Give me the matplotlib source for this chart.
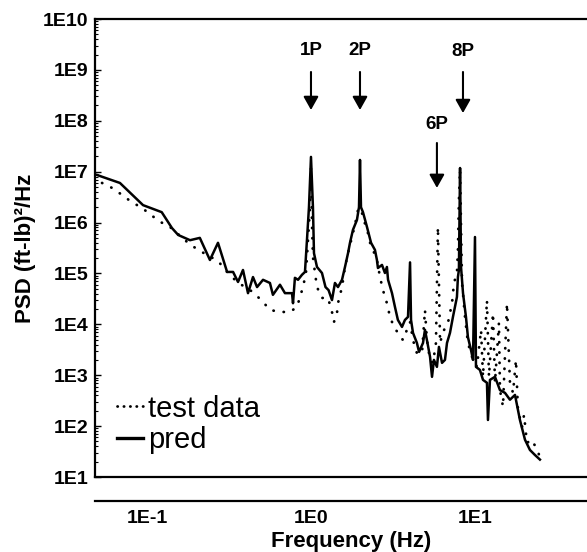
import matplotlib
matplotlib.use('Agg')
import matplotlib.pyplot as plt
from matplotlib.ticker import FixedLocator, FixedFormatter, LogLocator, NullFormatter, NullLocator
from matplotlib.lines import Line2D

plt.rcParams['font.family'] = ['Liberation Sans', 'DejaVu Sans']

# ---- data ----
pred_freq = [0.0496, 0.0684, 0.0946, 0.123, 0.142, 0.155, 0.183, 0.210, 0.242, 0.271,
             0.308, 0.335, 0.359, 0.385, 0.413, 0.443, 0.469, 0.510, 0.562, 0.586,
             0.647, 0.694, 0.766, 0.777, 0.798, 0.834, 0.881, 0.919, 0.945, 0.972,
             1.000, 1.028, 1.043, 1.088, 1.167, 1.226, 1.280, 1.343, 1.400, 1.461,
             1.546, 1.612, 1.682, 1.729, 1.803, 1.906, 1.962, 1.990, 2.018, 2.075,
             2.195, 2.324, 2.455, 2.524, 2.560, 2.710, 2.825, 2.904, 2.951, 3.119,
             3.251, 3.388, 3.589, 3.741, 3.905, 4.018, 4.074, 4.188, 4.426, 4.560,
             4.819, 4.955, 5.093, 5.321, 5.470, 5.620, 5.861, 6.030, 6.295, 6.561,
             6.750, 7.040, 7.340, 7.762, 7.870, 7.980, 8.110, 8.222, 8.453, 8.810,
             9.057, 9.462, 9.727, 10.00, 10.14, 10.72, 11.19, 11.83, 12.00, 12.34,
             13.24, 14.20, 15.24, 16.34, 17.54, 18.80, 20.18, 21.63, 23.23, 24.89]
pred_psd = [8.6e6, 6.0e6, 2.2e6, 1.6e6, 7.8e5, 5.7e5, 4.5e5, 5.0e5, 1.84e5, 4.0e5,
            1.07e5, 1.07e5, 6.8e4, 1.17e5, 4.1e4, 8.5e4, 5.4e4, 7.5e4, 6.5e4, 3.8e4,
            6.0e4, 4.1e4, 4.1e4, 2.6e4, 8.2e4, 7.5e4, 9.4e4, 1.07e5, 4.5e5, 2.0e6,
            1.95e7, 2.0e6, 2.5e5, 1.34e5, 1.02e5, 5.4e4, 4.7e4, 3.0e4, 6.5e4, 5.4e4,
            7.5e4, 1.34e5, 2.5e5, 4.0e5, 7.2e5, 1.12e6, 2.0e6, 1.7e7, 2.0e6, 1.6e6,
            8.2e5, 4.0e5, 2.9e5, 1.84e5, 1.28e5, 1.47e5, 1.02e5, 1.34e5, 7.5e4, 4.1e4,
            2.2e4, 1.22e4, 8.9e3, 1.22e4, 1.40e4, 1.65e5, 1.22e4, 6.8e3, 4.3e3, 2.87e3,
            4.3e3, 7.8e3, 4.9e3, 2.3e3, 9.3e2, 2.0e3, 1.46e3, 3.6e3, 1.75e3, 2.0e3,
            4.3e3, 6.8e3, 1.40e4, 3.45e4, 8.5e4, 1.17e5, 1.18e7, 1.34e5, 4.1e4, 1.40e4,
            5.6e3, 3.1e3, 2.0e3, 5.2e5, 1.46e3, 1.27e3, 8.1e2, 7.1e2, 1.32e2, 8.1e2,
            9.3e2, 5.1e2, 4.5e2, 3.3e2, 4.1e2, 1.32e2, 54, 34, 27, 22]

test_freq = [0.0532, 0.0612, 0.0704, 0.0810, 0.0919, 0.104, 0.118, 0.138, 0.178, 0.205,
             0.271, 0.308, 0.354, 0.443, 0.510, 0.562, 0.647, 0.745, 0.822, 0.857,
             0.894, 0.932, 0.959, 0.986, 1.000, 1.014, 1.028, 1.058, 1.088, 1.167,
             1.270, 1.343, 1.381, 1.441, 1.461, 1.546, 1.612, 1.682, 1.778, 1.854,
             1.935, 1.990, 2.046, 2.075, 2.195, 2.259, 2.388, 2.524, 2.636, 2.748,
             2.904, 3.033, 3.206, 3.388, 3.639, 3.846, 4.018, 4.188, 4.426, 4.753,
             4.955, 5.093, 5.321, 5.546, 5.781, 5.943, 6.124, 6.383, 6.843, 7.244,
             7.447, 7.762, 7.870, 7.980, 8.110, 8.337, 8.690, 9.057, 9.594, 10.28,
             10.89, 11.19, 11.83, 12.17, 12.88, 13.24, 14.00, 14.20, 14.82, 15.67,
             16.34, 17.06, 17.78, 18.28, 19.36, 19.91, 20.75, 22.28, 23.88, 24.89,
             25.63]
test_psd = [6.0e6, 4.8e6, 3.5e6, 2.5e6, 2.0e6, 1.48e6, 1.07e6, 8.2e5, 4.0e5, 2.9e5,
            1.76e5, 1.07e5, 6.8e4, 4.3e4, 2.75e4, 1.92e4, 1.75e4, 1.75e4, 2.2e4, 3.45e4,
            5.4e4, 1.02e5, 4.5e5, 2.0e6, 1.2e7, 9.8e5, 2.1e5, 1.02e5, 5.4e4, 3.3e4,
            3.3e4, 1.75e4, 1.11e4, 1.67e4, 2.6e4, 5.4e4, 1.34e5, 2.5e5, 5.2e5, 9.0e5,
            1.77e6, 2.5e6, 1.6e6, 1.12e6, 8.2e5, 4.5e5, 2.9e5, 1.84e5, 8.5e4, 4.7e4,
            2.6e4, 1.40e4, 8.9e3, 6.8e3, 4.9e3, 7.8e3, 1.11e4, 4.9e3, 2.7e3, 2.7e3,
            1.92e4, 4.9e3, 2.0e3, 1.75e3, 4.3e3, 8.2e5, 4.3e3, 7.1e3, 1.07e4, 2.6e4,
            6.5e4, 1.02e5, 2.9e5, 2.8e6, 1.08e7, 6.5e4, 1.40e4, 4.3e3, 2.3e3, 1.46e3,
            7.8e3, 9.3e2, 3.0e4, 9.3e2, 1.67e4, 7.1e2, 1.07e4, 5.1e2, 2.4e2, 2.6e4,
            7.1e2, 4.5e2, 2.0e3, 2.1e2, 96, 1.66e2, 47, 54, 34, 25,
            34]

ytick_vals = [1e1, 1e2, 1e3, 1e4, 1e5, 1e6, 1e7, 1e8, 1e9, 1e10]
ytick_labels = ['1E1', '1E2', '1E3', '1E4', '1E5', '1E6', '1E7', '1E8', '1E9', '1E10']
xtick_vals = [0.1, 1.0, 10.0]
xtick_labels = ['1E-1', '1E0', '1E1']

harmonic_labels = ['1P', '2P', '6P', '8P']
harmonic_freq = [1.0, 1.99, 5.86, 8.45]
arrow_tail = [9.1e8, 9.1e8, 3.66e7, 9.1e8]
arrow_tip = [1.63e8, 1.63e8, 4.8e6, 1.42e8]
label_psd = [2.45e9, 2.45e9, 8.3e7, 2.3e9]

legend_labels = ['test data', 'pred']

# ---- figure ----
fig = plt.figure(figsize=(5.87, 5.52), dpi=100)
ax = fig.add_axes([95 / 587, 1 - 477 / 552, 492 / 587, 458 / 552])
ax.set_xscale('log')
ax.set_yscale('log')
ax.set_xlim(0.0482, 48.2)
ax.set_ylim(10, 1e10)

ax.plot(test_freq, test_psd, color='k', lw=2.0, linestyle=(0, (0.1, 3.6)),
        dash_capstyle='round')
ax.plot(pred_freq, pred_psd, color='k', lw=1.8)

# box bottom at 1E1
ax.axhline(10, color='k', lw=1.6, clip_on=False)

for sp in ['top', 'left', 'bottom']:
    ax.spines[sp].set_linewidth(1.6)
ax.spines['right'].set_visible(False)
ax.spines['bottom'].set_position(('outward', 17))

ax.yaxis.set_major_locator(FixedLocator(ytick_vals))
ax.yaxis.set_major_formatter(FixedFormatter(ytick_labels))
ax.yaxis.set_minor_locator(LogLocator(base=10, subs=range(2, 10), numticks=30))
ax.yaxis.set_minor_formatter(NullFormatter())
ax.tick_params(axis='y', which='major', direction='in', length=4, width=1.0,
               labelsize=14, pad=5, right=False)
ax.tick_params(axis='y', which='minor', direction='in', length=2, width=0.8, right=False)

ax.xaxis.set_major_locator(FixedLocator(xtick_vals))
ax.xaxis.set_major_formatter(FixedFormatter(xtick_labels))
ax.xaxis.set_minor_locator(NullLocator())
ax.tick_params(axis='x', which='major', length=0, labelsize=14, pad=7, top=False)

for t in ax.get_xticklabels() + ax.get_yticklabels():
    t.set_fontweight('bold')

ax.set_xlabel('Frequency (Hz)', fontsize=16, fontweight='bold')
ax.xaxis.set_label_coords(0.52, -0.118)
ax.set_ylabel('PSD (ft-lb)²/Hz', fontsize=16, fontweight='bold')
ax.yaxis.set_label_coords(-0.12, 0.5)

for lab, f, tail, tip, ly in zip(harmonic_labels, harmonic_freq, arrow_tail, arrow_tip, label_psd):
    ax.annotate('', xy=(f, tip), xytext=(f, tail),
                arrowprops=dict(arrowstyle='-|>,head_width=0.45,head_length=0.8',
                                color='k', lw=1.5, shrinkA=0, shrinkB=0,
                                mutation_scale=10))
    ax.text(f, ly, lab, ha='center', va='center', fontsize=13.5, fontweight='bold')

handles = [Line2D([], [], color='k', lw=2.0, linestyle=(0, (0.1, 2.2)), dash_capstyle='round'),
           Line2D([], [], color='k', lw=2.4)]
ax.legend(handles, legend_labels, loc='upper left', bbox_to_anchor=(0.045, 0.18),
          frameon=False, fontsize=21, handlelength=0.9, handletextpad=0.15,
          borderpad=0, borderaxespad=0, labelspacing=0.12)

fig.savefig('out.png', dpi=100)
